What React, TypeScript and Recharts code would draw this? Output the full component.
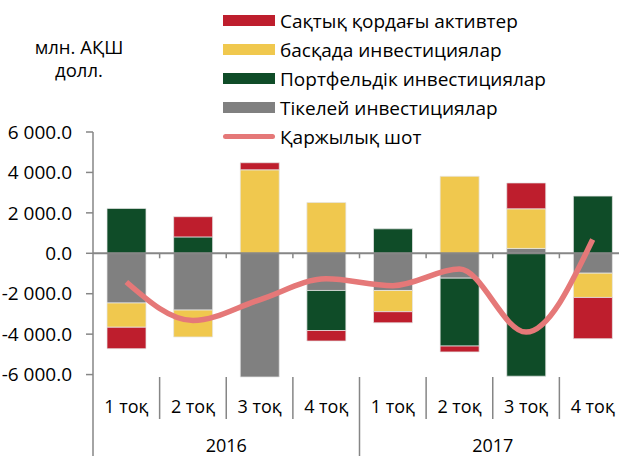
import React from 'react';
import { ComposedChart, Bar, Line, XAxis, YAxis, ReferenceLine } from 'recharts';

const quarters = ['1 тоқ', '2 тоқ', '3 тоқ', '4 тоқ', '1 тоқ', '2 тоқ', '3 тоқ', '4 тоқ'];
const years = ['2016', '2017'];

// млн. АҚШ долл.
const directInv = [-2460, -2810, -6120, -1840, -1840, -1230, 240, -985];
const portfolioInv = [2220, 810, 0, -1980, 1210, -3360, -6080, 2830];
const otherInv = [-1200, -1330, 4130, 2510, -1050, 3810, 1960, -1200];
const reserveAssets = [-1060, 1000, 350, -520, -550, -290, 1280, -2040];
const financialAccount = [-1420, -3330, -2300, -1260, -1600, -780, -3900, 680];

const yTicks = [-6000, -4000, -2000, 0, 2000, 4000, 6000];

const data = quarters.map((q, i) => ({
  key: `${years[Math.floor(i / 4)]}-${i}`,
  q,
  direct: directInv[i],
  portfolio: portfolioInv[i],
  other: otherInv[i],
  reserve: reserveAssets[i],
  fin: financialAccount[i],
}));

const FONT = '"Open Sans", sans-serif';
const AXIS = '#868686';
const CHART_W = 630;
const CHART_H = 456;
const M_TOP = 132;
const M_RIGHT = 4;
const Y_W = 93;
const PLOT_H = 245;
const BAND = (CHART_W - M_RIGHT - Y_W) / quarters.length;
const PLOT_BOTTOM = M_TOP + PLOT_H;

const legendItems = [
  { label: 'Сақтық қордағы активтер', color: '#BE1E2D', line: false },
  { label: 'басқада инвестициялар', color: '#F0C84E', line: false },
  { label: 'Портфельдік инвестициялар', color: '#0F4C28', line: false },
  { label: 'Тікелей инвестициялар', color: '#808080', line: false },
  { label: 'Қаржылық шот', color: '#E57878', line: true },
];

const fmt = (v: number) => {
  const s = Math.abs(v).toString().replace(/\B(?=(\d{3})+(?!\d))/g, ' ');
  return `${v < 0 ? '-' : ''}${s}.0`;
};

function XTick(props: any) {
  const { x, index } = props;
  const half = BAND / 2;
  return (
    <g>
      <text x={x} y={413} textAnchor="middle" fontSize={18} fontFamily={FONT} fill="#000">
        {quarters[index]}
      </text>
      {index < quarters.length - 1 && (
        <line
          x1={x + half}
          x2={x + half}
          y1={PLOT_BOTTOM}
          y2={index === 3 ? CHART_H : PLOT_BOTTOM + 42}
          stroke={AXIS}
          strokeWidth={1.5}
        />
      )}
      {index === 0 && (
        <line x1={x - half} x2={x - half} y1={PLOT_BOTTOM} y2={CHART_H} stroke={AXIS} strokeWidth={1.5} />
      )}
      {index % 4 === 1 && (
        <text x={x + half} y={452} textAnchor="middle" fontSize={18} fontFamily={FONT} fill="#000">
          {years[Math.floor(index / 4)]}
        </text>
      )}
    </g>
  );
}

function ZeroLine(props: any) {
  const { x1, x2, y1 } = props;
  const marks = [];
  for (let k = 1; k < quarters.length; k++) {
    const mx = x1 + k * BAND;
    marks.push(<line key={k} x1={mx} x2={mx} y1={y1} y2={y1 + 5} stroke={AXIS} strokeWidth={1.5} />);
  }
  return (
    <g>
      <line x1={x1} x2={x2} y1={y1} y2={y1} stroke={AXIS} strokeWidth={2} />
      {marks}
    </g>
  );
}

function LegendBox() {
  return (
    <div style={{ position: 'absolute', left: 223, top: 6, fontFamily: FONT, fontSize: 19 }}>
      {legendItems.map((it) => (
        <div key={it.label} style={{ display: 'flex', alignItems: 'center', height: 29 }}>
          {it.line ? (
            <div style={{ width: 52, height: 5, borderRadius: 3, background: it.color }} />
          ) : (
            <div style={{ width: 52, height: 11, background: it.color }} />
          )}
          <span style={{ marginLeft: 5, color: '#000', whiteSpace: 'nowrap' }}>{it.label}</span>
        </div>
      ))}
    </div>
  );
}

export default function App() {
  return (
    <div style={{ position: 'absolute', left: 0, top: 0, width: 619, height: 456, overflow: 'hidden', background: '#fff' }}>
      <div
        style={{
          position: 'absolute',
          left: 28,
          top: 35,
          width: 102,
          textAlign: 'center',
          fontFamily: FONT,
          fontSize: 18.5,
          lineHeight: '23px',
          color: '#000',
        }}
      >
        млн. АҚШ
        <br />
        долл.
      </div>
      <ComposedChart
        width={CHART_W}
        height={CHART_H}
        data={data}
        stackOffset="sign"
        margin={{ top: M_TOP, right: M_RIGHT, left: 0, bottom: 0 }}
      >
        <XAxis
          dataKey="key"
          height={CHART_H - PLOT_BOTTOM}
          axisLine={false}
          tickLine={false}
          interval={0}
          tick={<XTick />}
        />
        <YAxis
          width={Y_W}
          domain={[-6000, 6000]}
          ticks={yTicks}
          tickFormatter={fmt}
          axisLine={{ stroke: AXIS, strokeWidth: 1.5 }}
          tickLine={{ stroke: AXIS, strokeWidth: 1.5 }}
          tickSize={7}
          tickMargin={14}
          tick={{ fontSize: 19, fontFamily: FONT, fill: '#000' }}
        />
        <Bar dataKey="direct" stackId="a" fill="#808080" stroke="#e6e6e6" strokeWidth={0.75} barSize={39} isAnimationActive={false} />
        <Bar dataKey="portfolio" stackId="a" fill="#0F4C28" stroke="#e6e6e6" strokeWidth={0.75} barSize={39} isAnimationActive={false} />
        <Bar dataKey="other" stackId="a" fill="#F0C84E" stroke="#e6e6e6" strokeWidth={0.75} barSize={39} isAnimationActive={false} />
        <Bar dataKey="reserve" stackId="a" fill="#BE1E2D" stroke="#e6e6e6" strokeWidth={0.75} barSize={39} isAnimationActive={false} />
        <ReferenceLine y={0} shape={<ZeroLine />} />
        <Line
          dataKey="fin"
          type="monotone"
          stroke="#E57878"
          strokeWidth={5.5}
          dot={false}
          activeDot={false}
          isAnimationActive={false}
        />
      </ComposedChart>
      <LegendBox />
    </div>
  );
}
